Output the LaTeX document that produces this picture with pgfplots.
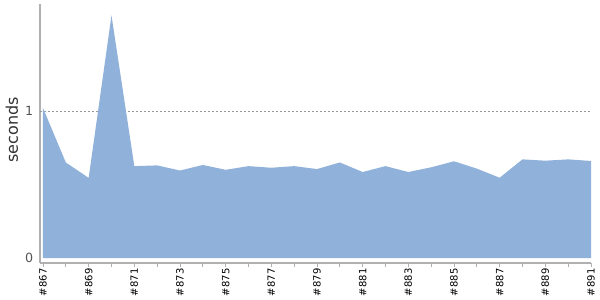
\documentclass[border=0pt]{standalone}
\usepackage{pgfplots}
\pgfplotsset{compat=1.18}
\usepackage{fontspec}
\setmainfont{DejaVu Sans}
\definecolor{areafill}{HTML}{8FB1DA}
\definecolor{axgray}{HTML}{B0B0B0}
\definecolor{lblgray}{HTML}{555555}
\begin{document}
\begin{tikzpicture}[x=0.75pt,y=0.75pt]
\path[use as bounding box] (0,0) rectangle (600,300);
\begin{axis}[
  at={(30pt,27.75pt)}, anchor=south west,
  scale only axis, width=413.25pt, height=194.25pt,
  xmin=-0.131, xmax=24, ymin=-0.034, ymax=1.728,
  axis x line*=bottom, axis y line*=left,
  axis line style={axgray, line width=0.8pt, -},
  xtick={0,...,24},
  xticklabels={\#867,,\#869,,\#871,,\#873,,\#875,,\#877,,\#879,,\#881,,\#883,,\#885,,\#887,,\#889,,\#891},
  xtick align=outside, major tick length=3pt,
  x tick style={axgray, line width=0.6pt},
  x tick label style={rotate=90, anchor=east, font=\fontsize{7.5}{8}\selectfont, text=black, inner sep=1pt},
  ytick={0,1}, y tick style={draw=none},
  y tick label style={font=\fontsize{9.5}{10}\selectfont, text=lblgray, xshift=-1.5pt},
  /pgf/number format/assume math mode=true,
  ylabel={seconds},
  ylabel style={at={(axis description cs:-0.0508,0.514)}, anchor=center, font=\fontsize{12}{13}\selectfont, text=black!80},
  clip=false,
]
\addplot[draw=gray!80, dash pattern=on 1.5pt off 1.5pt, line width=0.5pt] coordinates {(-0.131,1) (24,1)};
\addplot[draw=none, fill=areafill] table {
x y
0 1.02
1 0.65
2 0.545
3 1.65
4 0.625
5 0.63
6 0.595
7 0.633
8 0.60
9 0.625
10 0.614
11 0.625
12 0.605
13 0.65
14 0.585
15 0.625
16 0.585
17 0.617
18 0.658
19 0.608
20 0.546
21 0.671
22 0.662
23 0.671
24 0.66
} \closedcycle;
\end{axis}
\end{tikzpicture}
\end{document}
